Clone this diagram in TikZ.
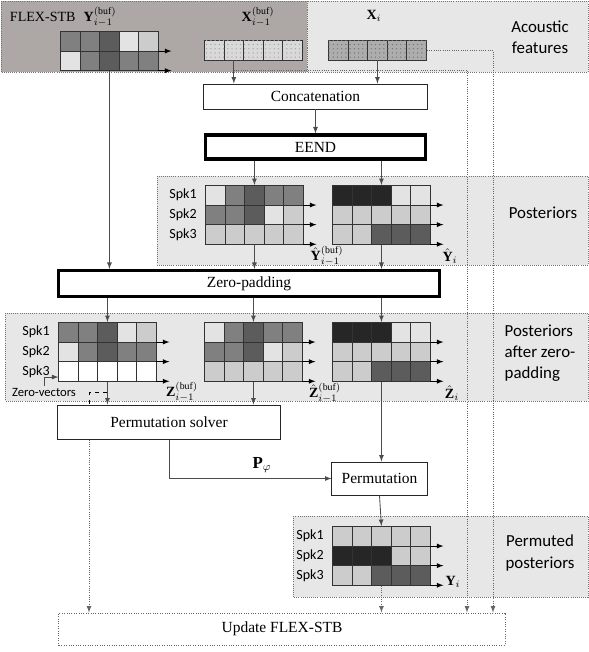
\documentclass[tikz,border=0pt]{standalone}
\usepackage{fontspec}
\setmainfont{Liberation Serif}
\newfontfamily\spkfont{Carlito}
\usetikzlibrary{matrix,positioning,arrows,calc,patterns}

\definecolor{featbg}{RGB}{231,231,231}
\definecolor{bufbg}{RGB}{173,168,166}

\begin{document}
\begin{tikzpicture}[
x=0.025cm, y=-0.025cm, >=latex,
cell/.style={draw=black!80, line width=0.6pt, minimum size=0.49cm, inner sep=0pt, outer sep=0pt},
post/.style={matrix of nodes, nodes in empty cells, nodes={cell},
	column sep=-0.6pt, row sep=-0.6pt, anchor=north west, inner sep=0pt, outer sep=0pt},
kk/.style={fill=black!85}, dk/.style={fill=black!64}, md/.style={fill=black!50},
lt/.style={fill=black!20}, vl/.style={fill=black!11}, wh/.style={fill=white},
xbc/.style={fill=black!15, postaction={pattern=dots, pattern color=black!35}},
xic/.style={fill=black!32, postaction={pattern=dots, pattern color=black!55}},
region/.style={draw=black!55, densely dotted, line width=0.5pt},
box/.style={draw=black!85, line width=0.7pt, fill=white, inner sep=0pt,
	font=\fontsize{11}{13}\selectfont},
thickbox/.style={box, draw=black, line width=2.2pt},
spk/.style={font=\spkfont\fontsize{10}{12}\selectfont, inner sep=1pt},
area/.style={font=\spkfont\fontsize{12}{15}\selectfont, align=center},
mlbl/.style={font=\normalsize, inner sep=0pt},
conn/.style={->, draw=black!70, line width=0.6pt},
dotconn/.style={->, draw=black!60, densely dotted, line width=0.6pt},
rowarr/.style={->, draw=black, line width=0.6pt}
]
\useasboundingbox (0,0) rectangle (589,652);

% grouping regions
\draw[region, fill=featbg] (307,1) rectangle (588,72);
\draw[region, fill=bufbg] (1,1) rectangle (307,72);
\draw[region, fill=featbg] (157,176) rectangle (588,265);
\draw[region, fill=featbg] (5,313) rectangle (588,401);
\draw[region, fill=featbg] (293,516) rectangle (588,597);

\node[anchor=west, font=\fontsize{10}{12}\selectfont] (flex) at (5,17) {FLEX-STB};
\node (lybuf) at (100,17) {$\mathbf{Y}_{i-1}^{(\mathrm{buf})}$};
\node (lxbuf) at (258,17) {$\mathbf{X}_{i-1}^{(\mathrm{buf})}$};
\node (lxi) at (374,16) {$\mathbf{X}_{i}$};
\node[area] (tfeat) at (540,37) {Acoustic\\features};

% buffer and input features
\matrix[post] (ybuf) at (60,31) {
|[md]| & |[md]| & |[dk]| & |[vl]| & |[lt]| \\
|[vl]| & |[md]| & |[dk]| & |[md]| & |[md]| \\
};
\matrix[post] (xb) at (204,40) {
|[xbc]| & |[xbc]| & |[xbc]| & |[xbc]| & |[xbc]| \\
};
\matrix[post] (xi) at (328,40) {
|[xic]| & |[xic]| & |[xic]| & |[xic]| & |[xic]| \\
};

\node[box, minimum width=5.575cm, minimum height=0.625cm] (concat) at (315.5,96.5) {Concatenation};
\node[thickbox, minimum width=5.5cm, minimum height=0.6cm] (eend) at (315.5,147) {EEND};

% posteriors
\matrix[post] (yhb) at (205,185) {
|[vl]| & |[md]| & |[dk]| & |[md]| & |[md]| \\
|[md]| & |[md]| & |[dk]| & |[vl]| & |[lt]| \\
|[lt]| & |[lt]| & |[lt]| & |[lt]| & |[lt]| \\
};
\matrix[post] (yhi) at (332,185) {
|[kk]| & |[kk]| & |[kk]| & |[vl]| & |[vl]| \\
|[lt]| & |[lt]| & |[lt]| & |[lt]| & |[lt]| \\
|[lt]| & |[lt]| & |[dk]| & |[dk]| & |[dk]| \\
};
\node[mlbl] (lyhb) at (327,256) {$\hat{\mathbf{Y}}_{i-1}^{(\mathrm{buf})}$};
\node[mlbl] (lyhi) at (450,256) {$\hat{\mathbf{Y}}_{i}$};
\node[area] (tpost) at (543,213) {Posteriors};

\node[thickbox, minimum width=9.5cm, minimum height=0.65cm] (zpad) at (249,283.5) {Zero-padding};

% posteriors after zero-padding
\matrix[post] (zb) at (58,322) {
|[md]| & |[md]| & |[dk]| & |[vl]| & |[lt]| \\
|[vl]| & |[md]| & |[dk]| & |[md]| & |[md]| \\
|[wh]| & |[wh]| & |[wh]| & |[wh]| & |[wh]| \\
};
\matrix[post] (zhb) at (204,322) {
|[vl]| & |[md]| & |[dk]| & |[md]| & |[md]| \\
|[md]| & |[md]| & |[dk]| & |[vl]| & |[lt]| \\
|[lt]| & |[lt]| & |[lt]| & |[lt]| & |[lt]| \\
};
\matrix[post] (zhi) at (332,322) {
|[kk]| & |[kk]| & |[kk]| & |[vl]| & |[vl]| \\
|[lt]| & |[lt]| & |[lt]| & |[lt]| & |[lt]| \\
|[lt]| & |[lt]| & |[dk]| & |[dk]| & |[dk]| \\
};
\node[mlbl] (lzb) at (182,392) {$\mathbf{Z}_{i-1}^{(\mathrm{buf})}$};
\node[mlbl] (lzhb) at (325,393) {$\hat{\mathbf{Z}}_{i-1}^{(\mathrm{buf})}$};
\node[mlbl] (lzhi) at (452,393) {$\hat{\mathbf{Z}}_{i}$};
\node[area, align=left] (tzpost) at (540,353) {Posteriors\\after zero-\\padding};
\node[spk, font=\spkfont\fontsize{9}{10}\selectfont] (zv) at (44,392) {Zero-vectors};

\node[box, minimum width=5.55cm, minimum height=0.85cm] (solver) at (169,422) {Permutation solver};
\node[box, minimum width=2.375cm, minimum height=0.825cm] (permut) at (379.5,478.5) {Permutation};
\node[font=\large] (lp) at (262,465) {$\mathbf{P}_{\varphi}$};

% permuted posteriors
\matrix[post] (yi) at (332,526) {
|[lt]| & |[lt]| & |[lt]| & |[lt]| & |[lt]| \\
|[kk]| & |[kk]| & |[kk]| & |[lt]| & |[lt]| \\
|[lt]| & |[lt]| & |[dk]| & |[dk]| & |[dk]| \\
};
\node[mlbl] (lyi) at (453,582) {$\mathbf{Y}_{i}$};
\node[area] (tperm) at (540,553) {Permuted\\posteriors};

\node[box, draw=black!60, densely dotted, minimum width=11.15cm, minimum height=0.8cm] (update) at (282,629) {Update FLEX-STB};

% speaker labels and row arrows
\foreach \m in {yhb,zb,yi}
	\foreach \r in {1,2,3}
		\node[spk, left=5pt of \m-\r-1] (\m s\r) {Spk\r};
\foreach \m/\n in {ybuf/2,yhb/3,yhi/3,zb/3,zhb/3,zhi/3,yi/3}
	\foreach \r in {1,...,\n}
		\draw[rowarr] (\m-\r-5.south east) -- ++(13,0);

% connectors
\draw[conn] (xb-1-2.south) -- (xb-1-2.south |- concat.north);
\draw[conn] (xi-1-3.south) -- (xi-1-3.south |- concat.north);
\draw[conn] (concat) -- (eend);
\draw[conn] (eend.south -| yhb.north) -- (yhb.north);
\draw[conn] (eend.south -| yhi.north) -- (yhi.north);
\draw[conn] (ybuf.south) -- (ybuf.south |- zpad.north);
\draw[conn] (yhb.south) -- (yhb.south |- zpad.north);
\draw[conn] (yhi.south) -- (yhi.south |- zpad.north);
\draw[conn] (zpad.south -| zb.north) -- (zb.north);
\draw[conn] (zpad.south -| zhb.north) -- (zhb.north);
\draw[conn] (zpad.south -| zhi.north) -- (zhi.north);
\draw[conn] (zb.south) -- (zb.south |- solver.north);
\draw[conn] (zhb.south) -- (zhb.south |- solver.north);
\draw[conn] (zhi.south) -- (zhi.south |- permut.north);
\draw[conn] (solver.south) |- (permut.west);
\draw[conn] (permut.south) -- (yi.north);
\draw[conn] (zv.north) |- ([yshift=-4pt]zb-3-1.west);

% buffer update paths
\coordinate (xbr) at ($(xb-1-2.south)+(0,10)$);
\coordinate (zbr) at ($(zb.south)+(0,11)$);
\coordinate (dx1) at (467,0);
\coordinate (dx2) at (493,0);
\coordinate (dx3) at (89,0);
\draw[dotconn] (xbr) -| (dx1 |- update.north);
\draw[dotconn] (xi.east) -| (dx2 |- update.north);
\draw[dashed, line width=0.6pt] (zbr) -| (dx3 |- solver.north);
\draw[dotconn] (dx3 |- solver.south) -- (dx3 |- update.north);
\draw[dotconn] (yi.south) -- (yi.south |- update.north);
\end{tikzpicture}
\end{document}
